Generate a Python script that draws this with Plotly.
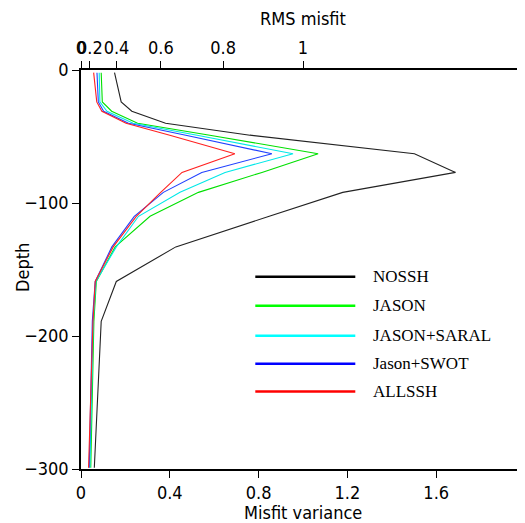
import plotly.graph_objects as go

depth = [-2, -24, -31, -40, -49, -63, -77, -92, -110, -133, -159, -189, -299]

nossh = [0.151, 0.181, 0.229, 0.381, 0.761, 1.502, 1.687, 1.179, 0.848, 0.427, 0.159, 0.091, 0.060]
jason = [0.091, 0.096, 0.138, 0.255, 0.580, 1.068, 0.815, 0.529, 0.311, 0.154, 0.069, 0.058, 0.044]
jason_saral = [0.082, 0.085, 0.117, 0.235, 0.523, 0.955, 0.649, 0.446, 0.259, 0.159, 0.067, 0.055, 0.040]
jason_swot = [0.072, 0.078, 0.102, 0.214, 0.472, 0.860, 0.544, 0.371, 0.240, 0.139, 0.064, 0.051, 0.037]
allssh = [0.057, 0.071, 0.094, 0.203, 0.400, 0.693, 0.455, 0.359, 0.249, 0.145, 0.064, 0.054, 0.034]

series_names = ["NOSSH", "JASON", "JASON+SARAL", "Jason+SWOT", "ALLSSH"]
series_vals = [nossh, jason, jason_saral, jason_swot, allssh]
colors = ["#222222", "#00e000", "#00e8e8", "#2040ff", "#ff2020"]
legend_colors = ["#000000", "#00ff00", "#00ffff", "#0000ff", "#ff0000"]

x_ticks = [0, 0.4, 0.8, 1.2, 1.6, 2]
x_ticktext = ["0", "0.4", "0.8", "1.2", "1.6", "2"]
rms_ticks = [0, 0.2, 0.4, 0.6, 0.8, 1]
rms_ticktext = ["0", "0.2", "0.4", "0.6", "0.8", "1"]
y_ticks = [0, -100, -200, -300]

tick_font = dict(family="DejaVu Sans Condensed", size=18, color="#000")
leg_font = dict(family="Liberation Serif", size=17, color="#000")

# page offset (body margin) compensation: plot area in page px
PAGE_OFF = 8
plot_l, plot_t, plot_w, plot_h = 80.7, 70, 444, 399.5
fig_w, fig_h = 518, 515

fig = go.Figure()
for name, vals, c in zip(series_names, series_vals, colors):
    fig.add_trace(go.Scatter(x=vals, y=depth, mode="lines", name=name,
                             line=dict(color=c, width=1.1), showlegend=False))

# invisible trace on the top (RMS) axis so it is drawn
fig.add_trace(go.Scatter(x=[0, 2], y=[None, None], xaxis="x2", yaxis="y",
                         mode="lines", showlegend=False, hoverinfo="skip"))

ml = plot_l - PAGE_OFF
mt = plot_t - PAGE_OFF
mr = fig_w - ml - plot_w
mb = fig_h - mt - plot_h

fig.update_layout(
    width=fig_w, height=fig_h,
    margin=dict(l=ml, r=max(mr, 0), t=mt, b=mb, pad=0),
    paper_bgcolor="white", plot_bgcolor="white",
    xaxis=dict(range=[0, 2], tickvals=x_ticks, ticktext=x_ticktext,
               ticks="outside", ticklen=7, tickwidth=1, tickcolor="#000",
               showline=True, linecolor="#000", linewidth=1.5, mirror=False,
               showgrid=False, zeroline=False, tickfont=tick_font,
               automargin=False, tickangle=0),
    xaxis2=dict(range=[0, 2], overlaying="x", side="top",
                tickvals=[r ** 2 for r in rms_ticks], ticktext=rms_ticktext,
                ticks="outside", ticklen=7, tickwidth=1, tickcolor="#000",
                showline=True, linecolor="#000", linewidth=1.5,
                showgrid=False, zeroline=False, tickfont=tick_font,
                automargin=False, tickangle=0),
    yaxis=dict(range=[-300, 0], tickvals=y_ticks,
               ticks="outside", ticklen=7, tickwidth=1, tickcolor="#000",
               showline=True, linecolor="#000", linewidth=1.5, mirror=True,
               showgrid=False, zeroline=False, tickfont=tick_font,
               automargin=False),
    showlegend=False,
)

# right border
fig.add_shape(type="line", xref="paper", yref="paper", x0=1, x1=1, y0=0, y1=1,
              line=dict(color="#000", width=1.5))

def px_to_paper(x=None, y=None):
    out = []
    if x is not None:
        out.append((x - plot_l) / plot_w)
    if y is not None:
        out.append(1 - (y - plot_t) / plot_h)
    return out[0] if len(out) == 1 else out

fig.add_annotation(text="RMS misfit", x=px_to_paper(x=303), y=px_to_paper(y=18),
                   xref="paper", yref="paper", showarrow=False, font=tick_font,
                   xanchor="center", yanchor="middle")
fig.add_annotation(text="Misfit variance", x=px_to_paper(x=303), y=px_to_paper(y=513),
                   xref="paper", yref="paper", showarrow=False, font=tick_font,
                   xanchor="center", yanchor="middle")
fig.add_annotation(text="Depth", x=px_to_paper(x=22), y=px_to_paper(y=268),
                   xref="paper", yref="paper", showarrow=False, textangle=-90,
                   font=tick_font, xanchor="center", yanchor="middle")

# manual legend (page px positions converted to paper coordinates)
leg_y_px = [277, 306, 336, 364, 392]
for name, c, ypx in zip(series_names, legend_colors, leg_y_px):
    yp = px_to_paper(y=ypx)
    fig.add_shape(type="line", xref="paper", yref="paper",
                  x0=px_to_paper(x=255), x1=px_to_paper(x=355), y0=yp, y1=yp,
                  line=dict(color=c, width=2.5))
    fig.add_annotation(text=name, xref="paper", yref="paper", x=px_to_paper(x=371),
                       y=yp, showarrow=False, xanchor="left", yanchor="middle", font=leg_font)

fig.write_html("out.html")
